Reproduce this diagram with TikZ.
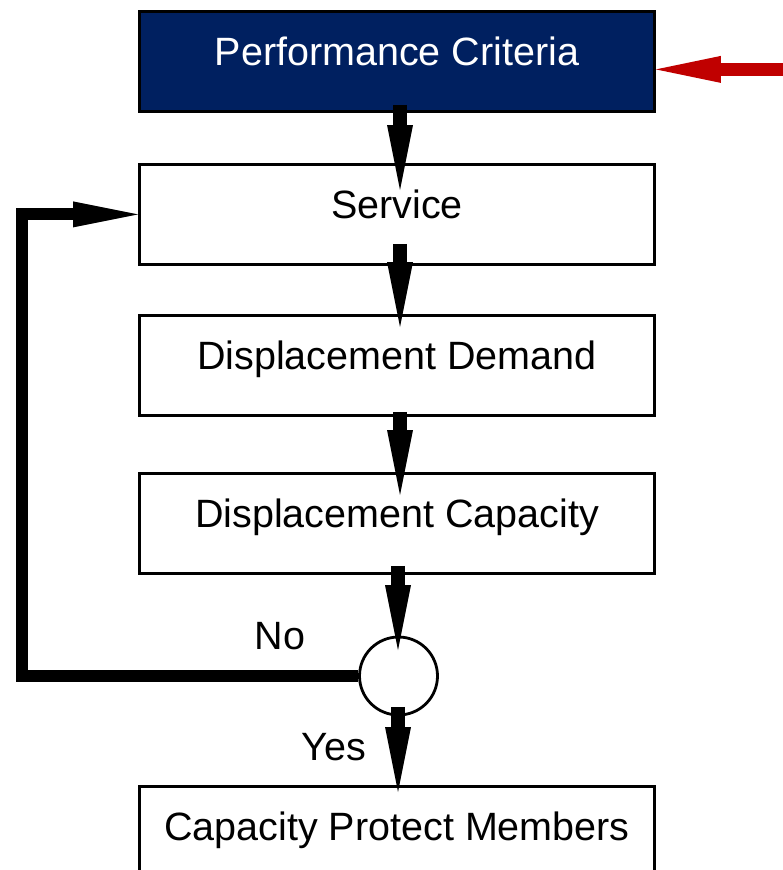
\documentclass[tikz,border=0pt]{standalone}
\usepackage{fontspec}
\setmainfont{Liberation Sans}
\usetikzlibrary{arrows.meta}
\definecolor{navy}{RGB}{0,32,96}
\definecolor{alertred}{RGB}{192,0,0}
\begin{document}
\begin{tikzpicture}[x=1pt,y=-1pt,
  stagebox/.style={draw=black, line width=2.8pt, minimum width=515pt,
    minimum height=100pt, inner sep=0pt, text height=28pt, text depth=20pt,
    font=\fontsize{39.5}{47}\selectfont},
  headbox/.style={stagebox, fill=navy, text=white},
  decision/.style={draw=black, line width=2.8pt, circle, minimum size=78pt, inner sep=0pt},
  flowtip/.style={-{Triangle[length=65pt,width=26pt,line width=0pt]}},
  flow/.style={line width=14pt, flowtip},
  loopline/.style={line width=12pt, line join=miter, flowtip},
  inflow/.style={line width=13pt, color=alertred,
    -{Triangle[length=65pt,width=27pt,line width=0pt]}},
  answer/.style={anchor=base, inner sep=0pt, font=\fontsize{39.5}{47}\selectfont}
]
\useasboundingbox (0,0) rectangle (783,870);

% process stages
\node[headbox]  (perf) at (397,61.4)  {Performance Criteria};
\node[stagebox] (serv) at (397,214.4) {Service};
\node[stagebox] (dd)   at (397,365.4) {Displacement Demand};
\node[stagebox] (dc)   at (397,523.4) {Displacement Capacity};
\node[decision] (dec)  at (398.5,676) {};
\node[stagebox] (bot)  at (397,836.4) {Capacity Protect Members};

% branch labels
\node[answer] (no)  at (280,649) {No};
\node[answer] (yes) at (334,760) {Yes};

% main downward flow
\draw[flow] ([xshift=3pt,yshift=8pt]perf.south) -- ([xshift=3pt,yshift=-27pt]serv.north);
\draw[flow] ([xshift=3pt,yshift=22pt]serv.south) -- ([xshift=3pt,yshift=-13pt]dd.north);
\draw[flow] ([xshift=3pt,yshift=5pt]dd.south) -- ([xshift=3pt,yshift=-23pt]dc.north);
\draw[flow] ([xshift=1pt,yshift=9pt]dc.south) -- ([xshift=-0.5pt,yshift=-14.5pt]dec.north);
\draw[flow] ([xshift=-0.5pt,yshift=9.5pt]dec.south) -- ([xshift=1pt,yshift=-7pt]bot.north);

% "No" loop back to the service stage
\coordinate (loopcorner) at (21.5,676);
\draw[loopline] (dec.west) -- (loopcorner) |- (serv.west);

% external input
\coordinate (src) at (783,69.4);
\draw[inflow] (src) -- ([yshift=-8pt]perf.east);
\end{tikzpicture}
\end{document}
